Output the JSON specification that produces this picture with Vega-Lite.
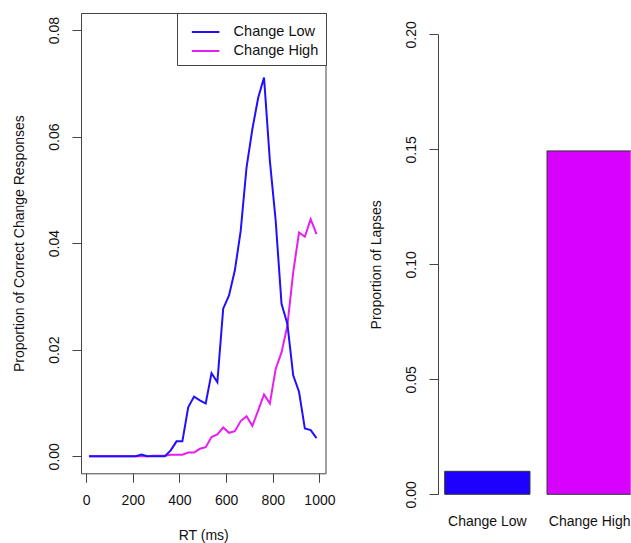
{
  "$schema": "https://vega.github.io/schema/vega-lite/v6.json",
  "padding": {"left": 11, "top": 12, "right": 0, "bottom": 0},
  "spacing": 33,
  "config": {
    "font": "Liberation Sans",
    "view": {"stroke": null},
    "axis": {
      "grid": false,
      "labelFontSize": 14,
      "titleFontSize": 14,
      "titleFontWeight": "normal",
      "labelColor": "#111",
      "titleColor": "#111",
      "tickColor": "#444",
      "domainColor": "#444",
      "tickSize": 9,
      "labelFlush": false,
      "labelOverlap": false
    }
  },
  "datasets": {
    "curves": [
      {"rt": 12.5, "prop": 0, "condition": "Change High"},
      {"rt": 37.5, "prop": 0, "condition": "Change High"},
      {"rt": 62.5, "prop": 0, "condition": "Change High"},
      {"rt": 87.5, "prop": 0, "condition": "Change High"},
      {"rt": 112.5, "prop": 0, "condition": "Change High"},
      {"rt": 137.5, "prop": 0, "condition": "Change High"},
      {"rt": 162.5, "prop": 0, "condition": "Change High"},
      {"rt": 187.5, "prop": 0, "condition": "Change High"},
      {"rt": 212.5, "prop": 0, "condition": "Change High"},
      {"rt": 237.5, "prop": 0, "condition": "Change High"},
      {"rt": 262.5, "prop": 0, "condition": "Change High"},
      {"rt": 287.5, "prop": 0.0001, "condition": "Change High"},
      {"rt": 312.5, "prop": 0.0001, "condition": "Change High"},
      {"rt": 337.5, "prop": 0.0001, "condition": "Change High"},
      {"rt": 362.5, "prop": 0.0003, "condition": "Change High"},
      {"rt": 387.5, "prop": 0.0003, "condition": "Change High"},
      {"rt": 412.5, "prop": 0.0003, "condition": "Change High"},
      {"rt": 437.5, "prop": 0.0007, "condition": "Change High"},
      {"rt": 462.5, "prop": 0.0007, "condition": "Change High"},
      {"rt": 487.5, "prop": 0.0014, "condition": "Change High"},
      {"rt": 512.5, "prop": 0.0017, "condition": "Change High"},
      {"rt": 537.5, "prop": 0.0036, "condition": "Change High"},
      {"rt": 562.5, "prop": 0.0041, "condition": "Change High"},
      {"rt": 587.5, "prop": 0.0054, "condition": "Change High"},
      {"rt": 612.5, "prop": 0.0044, "condition": "Change High"},
      {"rt": 637.5, "prop": 0.0047, "condition": "Change High"},
      {"rt": 662.5, "prop": 0.0066, "condition": "Change High"},
      {"rt": 687.5, "prop": 0.0075, "condition": "Change High"},
      {"rt": 712.5, "prop": 0.0057, "condition": "Change High"},
      {"rt": 737.5, "prop": 0.0086, "condition": "Change High"},
      {"rt": 762.5, "prop": 0.0116, "condition": "Change High"},
      {"rt": 787.5, "prop": 0.0099, "condition": "Change High"},
      {"rt": 812.5, "prop": 0.0164, "condition": "Change High"},
      {"rt": 837.5, "prop": 0.0195, "condition": "Change High"},
      {"rt": 862.5, "prop": 0.0245, "condition": "Change High"},
      {"rt": 887.5, "prop": 0.0345, "condition": "Change High"},
      {"rt": 912.5, "prop": 0.042, "condition": "Change High"},
      {"rt": 937.5, "prop": 0.0412, "condition": "Change High"},
      {"rt": 962.5, "prop": 0.0445, "condition": "Change High"},
      {"rt": 987.5, "prop": 0.0417, "condition": "Change High"},
      {"rt": 12.5, "prop": 0, "condition": "Change Low"},
      {"rt": 37.5, "prop": 0, "condition": "Change Low"},
      {"rt": 62.5, "prop": 0, "condition": "Change Low"},
      {"rt": 87.5, "prop": 0, "condition": "Change Low"},
      {"rt": 112.5, "prop": 0, "condition": "Change Low"},
      {"rt": 137.5, "prop": 0, "condition": "Change Low"},
      {"rt": 162.5, "prop": 0, "condition": "Change Low"},
      {"rt": 187.5, "prop": 0, "condition": "Change Low"},
      {"rt": 212.5, "prop": 0, "condition": "Change Low"},
      {"rt": 237.5, "prop": 0.0003, "condition": "Change Low"},
      {"rt": 262.5, "prop": 0, "condition": "Change Low"},
      {"rt": 287.5, "prop": 0, "condition": "Change Low"},
      {"rt": 312.5, "prop": 0, "condition": "Change Low"},
      {"rt": 337.5, "prop": 0, "condition": "Change Low"},
      {"rt": 362.5, "prop": 0.0011, "condition": "Change Low"},
      {"rt": 387.5, "prop": 0.0028, "condition": "Change Low"},
      {"rt": 412.5, "prop": 0.0028, "condition": "Change Low"},
      {"rt": 437.5, "prop": 0.0092, "condition": "Change Low"},
      {"rt": 462.5, "prop": 0.0112, "condition": "Change Low"},
      {"rt": 487.5, "prop": 0.0105, "condition": "Change Low"},
      {"rt": 512.5, "prop": 0.0099, "condition": "Change Low"},
      {"rt": 537.5, "prop": 0.0156, "condition": "Change Low"},
      {"rt": 562.5, "prop": 0.0139, "condition": "Change Low"},
      {"rt": 587.5, "prop": 0.0277, "condition": "Change Low"},
      {"rt": 612.5, "prop": 0.0302, "condition": "Change Low"},
      {"rt": 637.5, "prop": 0.0349, "condition": "Change Low"},
      {"rt": 662.5, "prop": 0.0423, "condition": "Change Low"},
      {"rt": 687.5, "prop": 0.0542, "condition": "Change Low"},
      {"rt": 712.5, "prop": 0.0614, "condition": "Change Low"},
      {"rt": 737.5, "prop": 0.0673, "condition": "Change Low"},
      {"rt": 762.5, "prop": 0.0711, "condition": "Change Low"},
      {"rt": 787.5, "prop": 0.0555, "condition": "Change Low"},
      {"rt": 812.5, "prop": 0.0442, "condition": "Change Low"},
      {"rt": 837.5, "prop": 0.0286, "condition": "Change Low"},
      {"rt": 862.5, "prop": 0.0249, "condition": "Change Low"},
      {"rt": 887.5, "prop": 0.0152, "condition": "Change Low"},
      {"rt": 912.5, "prop": 0.0121, "condition": "Change Low"},
      {"rt": 937.5, "prop": 0.0052, "condition": "Change Low"},
      {"rt": 962.5, "prop": 0.0049, "condition": "Change Low"},
      {"rt": 987.5, "prop": 0.0034, "condition": "Change Low"}
    ],
    "lapses": [
      {"condition": "Change Low", "prop": 0.01},
      {"condition": "Change High", "prop": 0.1493}
    ]
  },
  "hconcat": [
    {
      "width": 244.5,
      "height": 460.3,
      "view": {"stroke": "#444", "strokeWidth": 1},
      "data": {"name": "curves"},
      "mark": {"type": "line", "strokeWidth": 2, "clip": true},
      "encoding": {
        "x": {
          "field": "rt",
          "type": "quantitative",
          "scale": {"domain": [-22, 1026], "nice": false, "zero": false},
          "axis": {
            "values": [0, 200, 400, 600, 800, 1000],
            "format": "d",
            "domain": false,
            "title": "RT (ms)",
            "labelPadding": 11,
            "titlePadding": 21
          }
        },
        "y": {
          "field": "prop",
          "type": "quantitative",
          "scale": {"domain": [-0.0032, 0.0832], "nice": false, "zero": false},
          "axis": {
            "values": [0, 0.02, 0.04, 0.06, 0.08],
            "format": ".2f",
            "domain": false,
            "labelAngle": -90,
            "labelPadding": 11,
            "title": "Proportion of Correct Change Responses",
            "titlePadding": 21
          }
        },
        "color": {
          "field": "condition",
          "type": "nominal",
          "scale": {"domain": ["Change Low", "Change High"], "range": ["#2010FF", "#E81EF0"]},
          "legend": {
            "title": null,
            "orient": "top-right",
            "offset": 0,
            "strokeColor": "#444",
            "fillColor": "white",
            "cornerRadius": 0,
            "padding": 7,
            "rowPadding": 0,
            "symbolType": "M-1.3,0H1.3",
            "symbolSize": 450,
            "symbolStrokeWidth": 2,
            "symbolFillColor": "transparent",
            "symbolOffset": 9.6,
            "labelOffset": 16,
            "labelFontSize": 14.5,
            "labelColor": "#111"
          }
        }
      }
    },
    {
      "width": 192.7,
      "height": 499.4,
      "data": {"name": "lapses"},
      "mark": {"type": "bar", "stroke": "#333", "strokeWidth": 1, "clip": true},
      "encoding": {
        "x": {
          "field": "condition",
          "type": "nominal",
          "sort": null,
          "scale": {"range": [0, 201], "paddingInner": 0.1667, "paddingOuter": 0.0655},
          "axis": {
            "title": null,
            "domain": false,
            "ticks": false,
            "tickSize": 0,
            "labelAngle": 0,
            "labelPadding": 2,
            "labelFontSize": 14
          }
        },
        "y": {
          "field": "prop",
          "type": "quantitative",
          "scale": {"domain": [0, 0.2], "range": [481.3, 21.3], "nice": false, "zero": false},
          "axis": {
            "values": [0, 0.05, 0.1, 0.15, 0.2],
            "format": ".2f",
            "domain": true,
            "labelAngle": -90,
            "labelPadding": 11,
            "title": "Proportion of Lapses",
            "titlePadding": 21
          }
        },
        "y2": {"datum": 0},
        "color": {
          "field": "condition",
          "type": "nominal",
          "scale": {"domain": ["Change Low", "Change High"], "range": ["#1E00FF", "#D800FF"]},
          "legend": null
        }
      }
    }
  ],
  "resolve": {"scale": {"color": "independent"}}
}
